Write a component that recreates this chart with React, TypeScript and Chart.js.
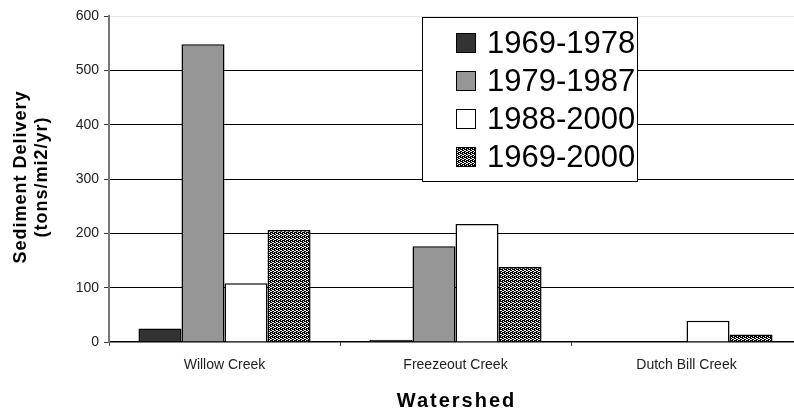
import React, { useEffect, useRef } from "react";
import { Chart, registerables } from "chart.js";

Chart.register(...registerables);

const categories = ["Willow Creek", "Freezeout Creek", "Dutch Bill Creek"];
const seriesLabels = ["1969-1978", "1979-1987", "1988-2000", "1969-2000"];
const s1969_1978 = [25, 4, 0];
const s1979_1987 = [548, 176, 0];
const s1988_2000 = [108, 217, 39];
const s1969_2000 = [206, 138, 14];
const yTicks = [0, 100, 200, 300, 400, 500, 600];
const yTitleLines = ["Sediment Delivery", "(tons/mi2/yr)"];
const xTitle = "Watershed";

const FONT = "'Liberation Sans', Arial, sans-serif";

function makePattern(): CanvasPattern | string {
  const c = document.createElement("canvas");
  c.width = 4;
  c.height = 4;
  const ctx = c.getContext("2d");
  if (!ctx) return "#555";
  ctx.fillStyle = "#000";
  ctx.fillRect(0, 0, 4, 4);
  ctx.fillStyle = "#fff";
  const whites = [[1, 0], [3, 1], [0, 2], [2, 3], [3, 3], [1, 2]];
  whites.forEach(([x, y]) => ctx.fillRect(x, y, 1, 1));
  return ctx.createPattern(c, "repeat") || "#555";
}

const titlesPlugin = {
  id: "axisTitles",
  afterDraw(chart: any) {
    const ctx = chart.ctx;
    const ca = chart.chartArea;
    ctx.save();
    ctx.fillStyle = "#000";
    ctx.font = `bold 18px ${FONT}`;
    (ctx as any).letterSpacing = "1px";
    ctx.textAlign = "center";
    ctx.textBaseline = "middle";
    const cy = (ca.top + ca.bottom) / 2 - 2;
    yTitleLines.forEach((line, i) => {
      ctx.save();
      ctx.translate(ca.left - 88 + i * 21, cy);
      ctx.rotate(-Math.PI / 2);
      ctx.fillText(line, 0, 0);
      ctx.restore();
    });
    ctx.font = `bold 20px ${FONT}`;
    (ctx as any).letterSpacing = "2px";
    ctx.textBaseline = "alphabetic";
    ctx.fillText(xTitle, (ca.left + ca.right) / 2 + 1, ca.bottom + 65);
    ctx.restore();
  },
};

const legendPlugin = {
  id: "boxLegend",
  afterDraw(chart: any) {
    const ctx = chart.ctx;
    const ca = chart.chartArea;
    const x0 = ca.left + 313;
    const y0 = ca.top + 1;
    const w = 215;
    const h = 164;
    ctx.save();
    ctx.fillStyle = "#fff";
    ctx.fillRect(x0, y0, w, h);
    ctx.strokeStyle = "#000";
    ctx.lineWidth = 1;
    ctx.strokeRect(x0 + 0.5, y0 + 0.5, w, h);
    ctx.font = `31px ${FONT}`;
    ctx.textBaseline = "middle";
    ctx.textAlign = "left";
    chart.data.datasets.forEach((ds: any, i: number) => {
      const cy = y0 + 26 + i * 38;
      const sx = x0 + 34;
      ctx.fillStyle = ds.backgroundColor;
      ctx.fillRect(sx, cy - 10, 20, 20);
      ctx.strokeStyle = "#000";
      ctx.lineWidth = 1;
      ctx.strokeRect(sx + 0.5, cy - 10 + 0.5, 19, 19);
      ctx.fillStyle = "#000";
      ctx.fillText(ds.label, sx + 31, cy + 1);
    });
    ctx.restore();
  },
};

export default function App() {
  const ref = useRef<HTMLCanvasElement>(null);
  useEffect(() => {
    document.body.style.overflow = "hidden";
    document.documentElement.style.overflow = "hidden";
    const canvas = ref.current;
    if (!canvas) return;
    const pattern = makePattern();
    const colors = ["#333333", "#969696", "#ffffff", pattern];
    const data = [s1969_1978, s1979_1987, s1988_2000, s1969_2000];
    const chart = new Chart(canvas, {
      type: "bar",
      data: {
        labels: categories,
        datasets: seriesLabels.map((label, i) => ({
          label,
          data: data[i],
          backgroundColor: colors[i] as any,
          borderColor: "#000",
          borderWidth: 1.5,
          categoryPercentage: 0.745,
          barPercentage: 1,
        })),
      },
      options: {
        animation: false,
        responsive: false,
        maintainAspectRatio: false,
        layout: { padding: { top: 16, right: 8, left: 0, bottom: 0 } },
        plugins: {
          legend: { display: false },
          tooltip: { enabled: false },
        },
        scales: {
          x: {
            grid: {
              offset: true,
              drawOnChartArea: false,
              tickLength: 4,
              color: "#000",
              tickColor: "#555",
            },
            border: { color: "#000", width: 1.5 },
            ticks: {
              color: "#222",
              font: { family: FONT, size: 14 },
              padding: 11,
            },
            title: { display: false },
            afterFit(scale: any) {
              scale.height = 66;
            },
          },
          y: {
            min: 0,
            max: 600,
            afterBuildTicks(scale: any) {
              scale.ticks = yTicks.map((v) => ({ value: v }));
            },
            grid: {
              color: (c: any) =>
                c.tick && c.tick.value === 600 ? "#e6e6e6" : c.tick && c.tick.value === 0 ? "rgba(0,0,0,0)" : "#000",
              tickColor: "#333",
              tickLength: 5,
              lineWidth: 1,
            },
            border: { color: "#777", width: 2 },
            ticks: {
              color: "#222",
              font: { family: FONT, size: 14 },
              padding: 5,
            },
            title: { display: false },
            afterFit(scale: any) {
              scale.width = 109;
            },
          },
        },
      },
      plugins: [legendPlugin, titlesPlugin],
    });
    return () => chart.destroy();
  }, []);
  return (
    <div style={{ position: "absolute", left: 0, top: 0, width: 810, height: 408 }}>
      <canvas ref={ref} width={810} height={408} style={{ display: "block" }} />
    </div>
  );
}
